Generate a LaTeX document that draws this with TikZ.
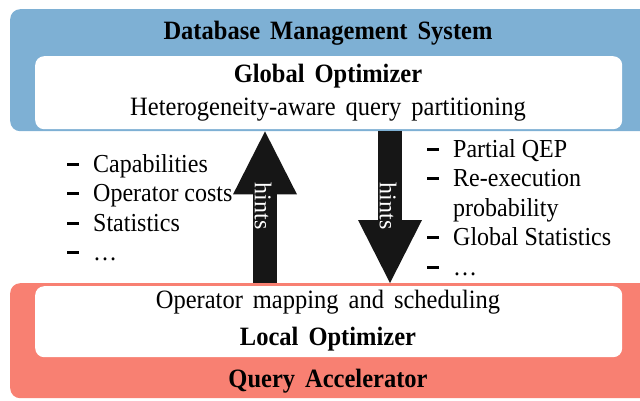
\documentclass[tikz,border=0pt]{standalone}
\usepackage{fontspec}
\usepackage{graphicx}
\setmainfont{Liberation Serif}
\usetikzlibrary{arrows.meta}
\definecolor{dbmsblue}{HTML}{7EB0D4}
\definecolor{accsalmon}{HTML}{F88072}
\definecolor{arrowblack}{HTML}{161616}
% slightly taller lettering
\newcommand{\tall}[1]{\scalebox{1}[1.08]{#1}}
% taller lettering with loose word spacing
\newcommand{\tallwide}[1]{\scalebox{1}[1.08]{\spaceskip=10pt\relax #1}}
\newcommand{\dashitem}{\rule[6.4pt]{11.5pt}{2.6pt}}
\tikzset{
  panel/.style={rounded corners=10pt, inner sep=0pt, anchor=north west},
  innerpanel/.style={panel, fill=white, rounded corners=9pt},
  textline/.style={font=\fontsize{24.5}{29.5}\selectfont, inner sep=0pt, anchor=base},
  titleline/.style={textline, font=\fontsize{24.5}{29.5}\selectfont\bfseries},
  itemlist/.style={font=\fontsize{24}{27.3}\selectfont, inner sep=0pt, anchor=base west},
  hintarrow/.style={line width=24pt, arrowblack,
    -{Triangle[width=64pt, length=63pt, line width=0pt]}},
  hintlabel/.style={font=\fontsize{24}{29.5}\selectfont, text=white, inner sep=0pt, rotate=-90},
}
\begin{document}
\begin{tikzpicture}[x=1pt, y=-1pt]
  \useasboundingbox (0,0) rectangle (640,400);

  % Database management system with its global optimizer
  \node[panel, fill=dbmsblue, minimum width=660pt, minimum height=122pt] (dbms) at (10,9) {};
  \node[innerpanel, minimum width=587pt, minimum height=73pt] (gopt) at (35,56) {};
  \node[titleline] (dbmstitle) at (328,39) {\tallwide{Database Management System}};
  \node[titleline] (gopttitle) at (328,82) {\tallwide{Global Optimizer}};
  \node[textline] (goptdesc) at (328,115) {\tallwide{Heterogeneity-aware query partitioning}};

  % Query accelerator with its local optimizer
  \node[panel, fill=accsalmon, minimum width=660pt, minimum height=115pt] (qacc) at (10,283) {};
  \node[innerpanel, minimum width=587pt, minimum height=71pt] (lopt) at (35,286) {};
  \node[textline] (loptdesc) at (328,308) {\tallwide{Operator mapping and scheduling}};
  \node[titleline] (lopttitle) at (328,345) {\tallwide{Local Optimizer}};
  \node[titleline] (qacctitle) at (328,387) {\tallwide{Query Accelerator}};

  % Hints exchanged between the two optimizers
  \coordinate (upx) at (265,0);
  \coordinate (downx) at (390,0);
  \draw[hintarrow] (qacc.north -| upx) -- (dbms.south -| upx);
  \draw[hintarrow] (dbms.south -| downx) -- (qacc.north -| downx);
  \node[hintlabel] (uphint) at (263,206) {hints};
  \node[hintlabel] (downhint) at (388,206) {hints};

  % Information sent upwards
  \node[itemlist] (uplist) at (67,172.5) {\tall{%
    \begin{tabular}[t]{@{}l@{\hspace{14.5pt}}l@{}}
      \dashitem & Capabilities\\
      \dashitem & Operator costs\\
      \dashitem & Statistics\\
      \dashitem & \dots
    \end{tabular}}};

  % Information sent downwards
  \node[itemlist] (downlist) at (427,157.5) {\tall{%
    \begin{tabular}[t]{@{}l@{\hspace{14.5pt}}l@{}}
      \dashitem & Partial QEP\\
      \dashitem & Re-execution\\
                & probability\\
      \dashitem & Global Statistics\\
      \dashitem & \dots
    \end{tabular}}};
\end{tikzpicture}
\end{document}
